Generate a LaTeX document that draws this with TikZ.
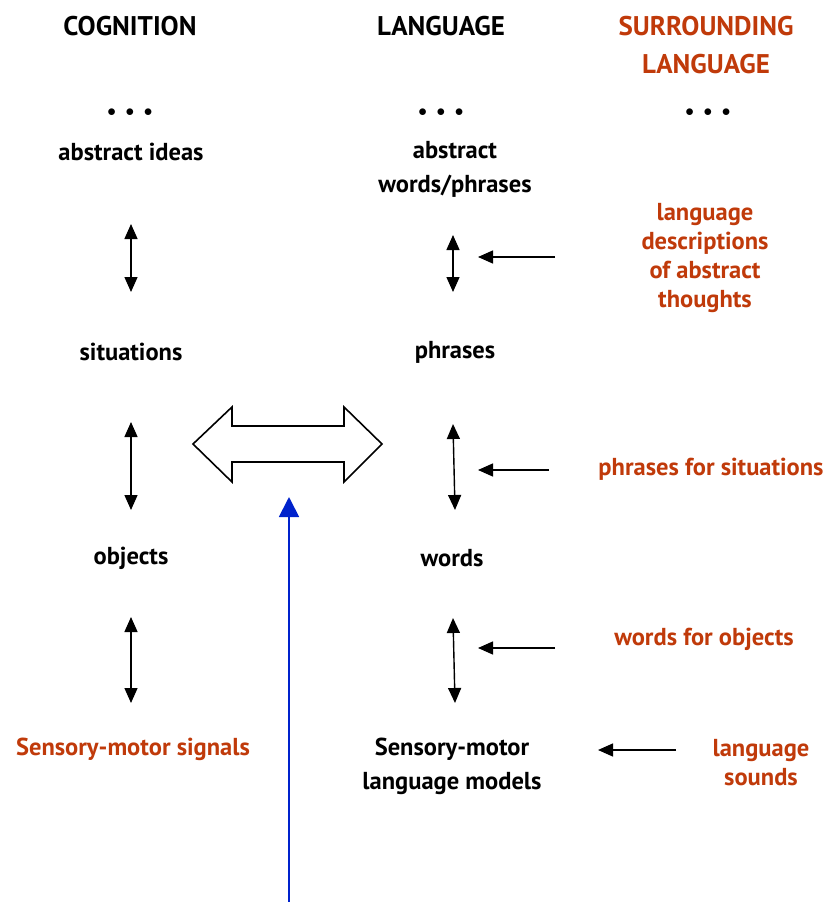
\documentclass[tikz,border=0pt]{standalone}
\usepackage{fontspec}
\setmainfont{PT Sans}
\usetikzlibrary{arrows.meta}
\definecolor{rust}{RGB}{192,58,10}
\definecolor{sigblue}{RGB}{0,34,204}
\tikzset{
 txt/.style={font=\fontsize{24.5}{34}\selectfont\bfseries, align=center, inner sep=0pt},
 head/.style={font=\fontsize{27}{38}\selectfont\bfseries, align=center, inner sep=0pt},
 srnd/.style={txt, text=rust, font=\fontsize{24.5}{29}\selectfont\bfseries},
 dots/.style={font=\fontsize{19}{20}\selectfont, inner sep=0pt},
 vert/.style={line width=1.4pt, {Triangle[length=15pt,width=13pt]}-{Triangle[length=15pt,width=13pt]}},
 harr/.style={line width=1.4pt, -{Triangle[length=15pt,width=13pt]}}
}
\begin{document}
\begin{tikzpicture}[x=1pt,y=-1pt]
 \useasboundingbox (0,0) rectangle (833,902);
 % column heads
 \node[head] (cog) at (130,26) {COGNITION};
 \node[head] (lang) at (441,26) {LANGUAGE};
 \node[head, text=rust] (sur) at (706,45) {SURROUNDING\\LANGUAGE};
 \foreach \x/\n in {130/d1,441/d2,708/d3}{
   \node[dots] (\n) at (\x,113) {$\bullet\,\,\bullet\,\,\bullet$};
 }

 % cognition
 \node[txt] (ideas) at (131,152) {abstract ideas};
 \node[txt] (sit) at (131,352) {situations};
 \node[txt] (obj) at (131,558) {objects};
 \node[txt, text=rust] (sig) at (133,749) {Sensory-motor signals};
 \draw[vert] ([yshift=-72]ideas.center) -- ([yshift=60]sit.center);
 \draw[vert] ([yshift=-70]sit.center) -- ([yshift=48]obj.center);
 \draw[vert] ([yshift=-59]obj.center) -- ([xshift=-2,yshift=46]sig.center);

 % language
 \node[txt] (abs) at (455,169) {abstract\\words/phrases};
 \node[txt] (phr) at (455,352) {phrases};
 \node[txt] (wrd) at (452,558) {words};
 \node[txt] (smm) at (452,766) {Sensory-motor\\language models};
 \draw[vert] ([xshift=-2,yshift=-66]abs.center) -- ([xshift=-2,yshift=60]phr.center);
 \draw[vert] ([xshift=-2,yshift=-72]phr.center) -- ([xshift=3,yshift=48]wrd.center);
 \draw[vert] ([xshift=1,yshift=-60]wrd.center) -- ([xshift=3,yshift=63]smm.center);

 % surrounding language
 \node[srnd] (desc) at (705,258) {language\\descriptions\\of abstract\\thoughts};
 \node[srnd] (psit) at (711,469) {phrases for situations};
 \node[srnd] (wobj) at (704,639) {words for objects};
 \node[srnd] (snd) at (761,763) {language\\sounds};
 \coordinate (h1) at (555,257); \coordinate (h1e) at (478,257);
 \coordinate (h2) at (549,470); \coordinate (h2e) at (478,470);
 \coordinate (h3) at (555,648); \coordinate (h3e) at (478,648);
 \coordinate (h4) at (676,750); \coordinate (h4e) at (598,750);
 \draw[harr] (h1) -- (h1e);
 \draw[harr] (h2) -- (h2e);
 \draw[harr] (h3) -- (h3e);
 \draw[harr] (h4) -- (h4e);

 % big double arrow
 \draw[line width=1.6pt, line join=miter] (193,444) -- (232,407) -- (232,426) -- (344,426) -- (344,407)
   -- (382,444) -- (344,482) -- (344,462) -- (232,462) -- (232,482) -- cycle;

 % blue arrow
 \coordinate (b0) at (289,902); \coordinate (b1) at (289,497);
 \draw[sigblue, line width=1.8pt, -{Triangle[length=20pt,width=20pt]}] (b0) -- (b1);
\end{tikzpicture}
\end{document}
